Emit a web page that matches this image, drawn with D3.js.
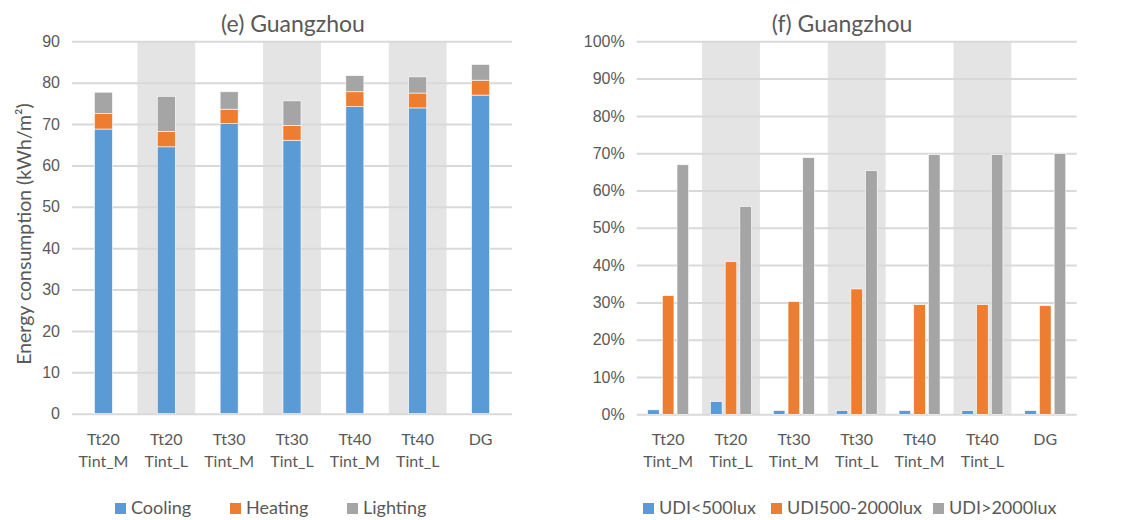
<!DOCTYPE html>
<html>
<head>
<meta charset="utf-8">
<script src="https://cdn.jsdelivr.net/npm/d3@7"></script>
<style>
  html, body { margin: 0; padding: 0; background: #fff; }
  svg { display: block; font-family: Lato, "Open Sans", sans-serif; }
</style>
</head>
<body>
<svg id="chart" width="1132" height="520"></svg>
<script>
// Shared categories (two-line labels)
const categories = ["Tt20 Tint_M", "Tt20 Tint_L", "Tt30 Tint_M", "Tt30 Tint_L", "Tt40 Tint_M", "Tt40 Tint_L", "DG"];

// (e) Energy consumption, kWh/m² (stacked)
const energySeries = ["Cooling", "Heating", "Lighting"];
const cooling  = [68.8, 64.5, 70.1, 66.1, 74.2, 73.9, 77.0];
const heating  = [3.7, 3.7, 3.5, 3.6, 3.6, 3.6, 3.6];
const lighting = [5.2, 8.5, 4.2, 5.9, 3.9, 3.9, 3.8];
const energyTicks = [0, 10, 20, 30, 40, 50, 60, 70, 80, 90];

// (f) Useful daylight illuminance shares (clustered)
const udiSeries = ["UDI<500lux", "UDI500-2000lux", "UDI>2000lux"];
const udiLow  = [0.012, 0.034, 0.010, 0.010, 0.010, 0.010, 0.010];
const udiMid  = [0.318, 0.409, 0.302, 0.336, 0.294, 0.294, 0.291];
const udiHigh = [0.669, 0.557, 0.688, 0.653, 0.696, 0.696, 0.699];
const udiTicks = [0, 0.1, 0.2, 0.3, 0.4, 0.5, 0.6, 0.7, 0.8, 0.9, 1.0];

const colors = ["#5b9bd5", "#ed7d31", "#a5a5a5"];
const textColor = "#595959";
const gridColor = "#d9d9d9";
const bandColor = "#e4e4e4";

const svg = d3.select("#chart");

function drawFrame(g, x, y, ticks, fmt, yMax) {
  // alternating shaded category bands
  g.selectAll("rect.band")
    .data(categories.filter((d, i) => i % 2 === 1))
    .join("rect")
    .attr("class", "band")
    .attr("x", d => x(d) + x.step() * 0.04)
    .attr("width", x.step() * 0.92)
    .attr("y", y(yMax))
    .attr("height", y(0) - y(yMax))
    .attr("fill", bandColor);

  // gridlines + tick labels
  const yAxis = d3.axisLeft(y).tickValues(ticks).tickFormat(fmt)
    .tickSize(-(x.range()[1] - x.range()[0])).tickPadding(12);
  const ga = g.append("g").attr("transform", `translate(${x.range()[0]},0)`).call(yAxis);
  ga.select(".domain").remove();
  ga.selectAll(".tick line").attr("stroke", gridColor).attr("stroke-width", 2);
  ga.selectAll(".tick text").attr("fill", textColor).attr("font-size", 16);

  // category labels
  const xa = g.append("g");
  categories.forEach(c => {
    const parts = c.split(" ");
    const t = xa.append("text")
      .attr("x", x(c) + x.bandwidth() / 2)
      .attr("y", y(0) + 31)
      .attr("text-anchor", "middle")
      .attr("fill", textColor)
      .attr("font-size", 16);
    parts.forEach((p, i) => {
      t.append("tspan").attr("x", x(c) + x.bandwidth() / 2).attr("dy", i === 0 ? 0 : 22).text(p);
    });
  });
}

function drawLegend(g, items, xs, y) {
  items.forEach((name, i) => {
    g.append("rect").attr("x", xs[i]).attr("y", y - 11).attr("width", 11).attr("height", 11).attr("fill", colors[i]);
    g.append("text").attr("x", xs[i] + 16).attr("y", y).attr("fill", textColor)
      .attr("font-size", 18).text(name);
  });
}

// ---------- (e) stacked energy chart ----------
{
  const g = svg.append("g");
  const x = d3.scaleBand().domain(categories).range([72, 512]).paddingInner(0).paddingOuter(0);
  const y = d3.scaleLinear().domain([0, 90]).range([413.7, 41.3]);
  drawFrame(g, x, y, energyTicks, d3.format("d"), 90);

  const rows = categories.map((c, i) => ({ cat: c, Cooling: cooling[i], Heating: heating[i], Lighting: lighting[i] }));
  const stacked = d3.stack().keys(energySeries)(rows);
  const bw = 18;
  g.selectAll("g.layer").data(stacked).join("g")
    .attr("fill", (d, i) => colors[i])
    .selectAll("rect").data(d => d).join("rect")
    .attr("x", d => x(d.data.cat) + x.bandwidth() / 2 - bw / 2)
    .attr("width", bw)
    .attr("y", d => y(d[1]))
    .attr("height", d => y(d[0]) - y(d[1]))
    .attr("stroke", "#ffffff").attr("stroke-width", 0.6);

  g.append("text").attr("x", 293).attr("y", 32).attr("text-anchor", "middle")
    .attr("fill", textColor).attr("font-size", 23).text("(e) Guangzhou");

  g.append("text").attr("transform", "translate(31,234) rotate(-90)")
    .attr("text-anchor", "middle").attr("fill", textColor).attr("font-size", 19.5)
    .text("Energy consumption (kWh/m²)");

  drawLegend(g, energySeries, [115, 230, 347], 514);
}

// ---------- (f) clustered UDI chart ----------
{
  const g = svg.append("g");
  const x = d3.scaleBand().domain(categories).range([636.7, 1076.7]).paddingInner(0).paddingOuter(0);
  const y = d3.scaleLinear().domain([0, 1]).range([414.3, 41.3]);
  drawFrame(g, x, y, udiTicks, d3.format(".0%"), 1);

  const values = [udiLow, udiMid, udiHigh];
  const x1 = d3.scaleBand().domain([0, 1, 2]).range([-20.5, 20.5]).paddingInner(0.21);
  values.forEach((arr, s) => {
    g.append("g").attr("fill", colors[s])
      .selectAll("rect").data(arr).join("rect")
      .attr("x", (d, i) => x(categories[i]) + x.bandwidth() / 2 + x1(s))
      .attr("width", x1.bandwidth())
      .attr("y", d => y(d))
      .attr("height", d => y(0) - y(d))
      .attr("stroke", "#ffffff").attr("stroke-width", 0.6);
  });

  g.append("text").attr("x", 842).attr("y", 32).attr("text-anchor", "middle")
    .attr("fill", textColor).attr("font-size", 23).text("(f) Guangzhou");

  drawLegend(g, udiSeries, [643, 771, 933], 514);
}
</script>
</body>
</html>
